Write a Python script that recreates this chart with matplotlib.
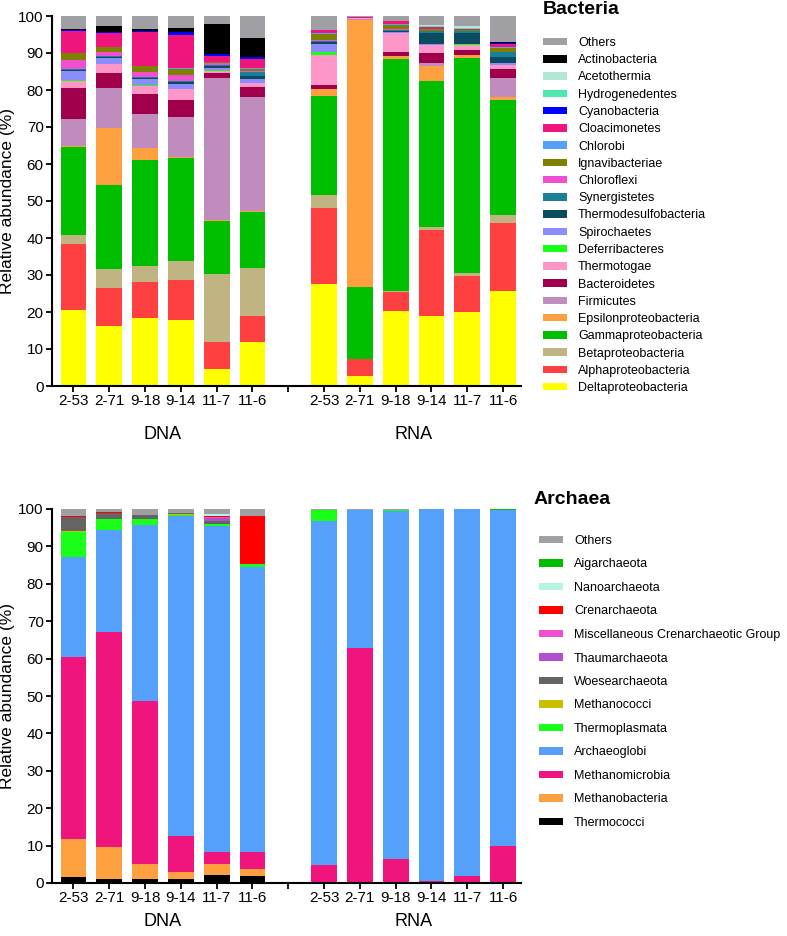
import matplotlib
matplotlib.use("Agg")
import matplotlib.pyplot as plt
from matplotlib.patches import Patch

plt.rcParams['font.family'] = ['Liberation Sans', 'DejaVu Sans']

samples = ["2-53", "2-71", "9-18", "9-14", "11-7", "11-6"]
groups = ["DNA", "RNA"]
# DNA bars at 0-5, RNA bars at 7-12
xpos = [0, 1, 2, 3, 4, 5, 7, 8, 9, 10, 11, 12]

# ---- Bacteria (12 values: DNA 2-53..11-6, RNA 2-53..11-6) ----
delta = [20.5, 16.3, 18.4, 17.9, 4.7, 11.8, 27.5, 2.7, 20.4, 18.8, 20.0, 25.7]
alpha = [17.9, 10.3, 9.7, 10.7, 7.1, 7.0, 20.7, 4.5, 4.9, 23.3, 9.7, 18.4]
beta = [2.5, 5.0, 4.2, 5.2, 18.5, 13.0, 3.5, 0.2, 0.5, 0.9, 0.8, 2.2]
gamma = [23.6, 22.6, 28.7, 27.7, 14.3, 15.2, 26.7, 19.3, 62.6, 39.3, 58.2, 31.0]
epsilon = [0.3, 15.6, 3.3, 0.3, 0.2, 0.2, 1.8, 72.1, 0.8, 4.2, 0.7, 0.9]
firmicutes = [7.4, 10.7, 9.3, 10.8, 38.5, 30.8, 0.2, 0.3, 0.1, 0.7, 0.1, 5.1]
bacteroidetes = [8.3, 4.0, 5.3, 4.6, 1.4, 2.9, 1.0, 0.2, 1.0, 2.9, 1.4, 2.5]
thermotogae = [1.8, 2.4, 2.3, 3.0, 0.5, 0.9, 8.1, 0.1, 5.0, 2.0, 1.3, 0.9]
deferribacteres = [0.3, 0.1, 0.2, 0.2, 0.1, 0.1, 0.9, 0.0, 0.1, 0.1, 0.1, 0.1]
spirochaetes = [2.5, 1.7, 1.6, 1.3, 0.6, 1.0, 2.1, 0.0, 0.4, 0.2, 0.1, 0.4]
thermodesulfo = [0.2, 0.1, 0.3, 0.4, 0.5, 1.0, 0.6, 0.0, 0.2, 3.1, 2.9, 1.8]
synergistetes = [0.4, 0.3, 0.2, 0.3, 0.3, 0.9, 0.2, 0.0, 0.2, 0.4, 0.6, 1.2]
chloroflexi = [2.5, 1.1, 1.5, 1.7, 0.6, 0.3, 0.2, 0.1, 0.2, 0.1, 0.1, 0.2]
ignavibacteriae = [1.8, 1.4, 1.4, 1.7, 0.3, 0.7, 1.7, 0.0, 1.2, 0.4, 0.2, 1.0]
chlorobi = [0.1, 0.1, 0.1, 0.1, 0.1, 0.1, 0.2, 0.0, 0.3, 0.1, 0.1, 0.1]
cloacimonetes = [5.8, 3.7, 9.2, 9.0, 1.5, 2.6, 0.7, 0.2, 0.7, 0.4, 0.2, 0.8]
cyanobacteria = [0.3, 0.2, 0.3, 0.7, 0.6, 0.5, 0.1, 0.0, 0.1, 0.1, 0.1, 0.4]
hydrogenedentes = [0, 0, 0, 0, 0, 0, 0, 0, 0, 0.2, 0.2, 0]
acetothermia = [0, 0, 0, 0, 0, 0, 0, 0, 0, 0.5, 0.5, 0]
actinobacteria = [0.3, 1.6, 0.5, 1.1, 8.1, 5.0, 0, 0, 0, 0, 0, 0.2]
bac_others = [3.5, 2.8, 3.5, 3.3, 2.1, 6.0, 3.8, 0.3, 1.3, 2.3, 2.7, 7.1]

bac_names = ["Deltaproteobacteria", "Alphaproteobacteria", "Betaproteobacteria",
             "Gammaproteobacteria", "Epsilonproteobacteria", "Firmicutes",
             "Bacteroidetes", "Thermotogae", "Deferribacteres", "Spirochaetes",
             "Thermodesulfobacteria", "Synergistetes", "Chloroflexi",
             "Ignavibacteriae", "Chlorobi", "Cloacimonetes", "Cyanobacteria",
             "Hydrogenedentes", "Acetothermia", "Actinobacteria", "Others"]
bac_values = [delta, alpha, beta, gamma, epsilon, firmicutes, bacteroidetes,
              thermotogae, deferribacteres, spirochaetes, thermodesulfo,
              synergistetes, chloroflexi, ignavibacteriae, chlorobi,
              cloacimonetes, cyanobacteria, hydrogenedentes, acetothermia,
              actinobacteria, bac_others]
bac_colors = ["#FFFF00", "#FF4040", "#C0B482", "#00BE00", "#FFA040", "#C08CBE",
              "#A0004B", "#FF96C8", "#19FF19", "#8C8CFF", "#0A4B5F", "#1A8099",
              "#F050D0", "#808000", "#55A0FA", "#F0147D", "#0000FF", "#4DE8B0",
              "#B3E8D8", "#000000", "#A0A0A4"]

# ---- Archaea ----
thermococci = [1.7, 1.1, 1.2, 1.2, 2.2, 1.9, 0.1, 0.2, 0.1, 0.0, 0.0, 0.1]
methanobacteria = [10.0, 8.6, 3.9, 1.7, 2.8, 1.8, 0.1, 0.1, 0.1, 0.1, 0.1, 0.1]
methanomicrobia = [48.8, 57.3, 43.6, 9.7, 3.2, 4.5, 4.6, 62.5, 6.1, 0.4, 1.8, 9.6]
archaeoglobi = [26.6, 27.5, 46.9, 85.4, 87.2, 76.2, 91.9, 37.0, 93.2, 99.4, 98.0, 89.8]
thermoplasmata = [6.7, 2.7, 1.6, 0.4, 0.6, 0.8, 2.9, 0.0, 0.1, 0.0, 0.0, 0.0]
methanococci = [0.2, 0.1, 0.1, 0.2, 0.0, 0.2, 0, 0, 0, 0, 0, 0]
woesearchaeota = [3.8, 1.7, 1.1, 0.3, 0.7, 0.0, 0, 0, 0, 0, 0, 0]
thaumarchaeota = [0, 0, 0, 0, 0.9, 0, 0, 0, 0, 0, 0, 0]
misc_cren = [0.1, 0, 0, 0, 0.2, 0, 0, 0, 0, 0, 0, 0]
crenarchaeota = [0.1, 0.2, 0, 0, 0.3, 12.6, 0, 0, 0, 0, 0, 0]
nanoarchaeota = [0, 0, 0, 0, 0.6, 0, 0, 0, 0, 0, 0, 0]
aigarchaeota = [0, 0, 0, 0, 0, 0.2, 0.1, 0, 0.2, 0, 0, 0.3]
arc_others = [2.0, 0.8, 1.6, 1.1, 1.3, 1.8, 0.3, 0.2, 0.2, 0.1, 0.1, 0.1]

arc_names = ["Thermococci", "Methanobacteria", "Methanomicrobia", "Archaeoglobi",
             "Thermoplasmata", "Methanococci", "Woesearchaeota", "Thaumarchaeota",
             "Miscellaneous Crenarchaeotic Group", "Crenarchaeota",
             "Nanoarchaeota", "Aigarchaeota", "Others"]
arc_values = [thermococci, methanobacteria, methanomicrobia, archaeoglobi,
              thermoplasmata, methanococci, woesearchaeota, thaumarchaeota,
              misc_cren, crenarchaeota, nanoarchaeota, aigarchaeota, arc_others]
arc_colors = ["#000000", "#FFA040", "#F0147D", "#55A0FA", "#19FF19", "#C8C000",
              "#646464", "#B050D0", "#F050D0", "#FF0000", "#B3F5E0", "#00BE00",
              "#A0A0A4"]


def stacked(ax, values, colors, group_y):
    bottom = [0.0] * len(xpos)
    for vals, col in zip(values, colors):
        ax.bar(xpos, vals, 0.72, bottom=bottom, color=col, linewidth=0)
        bottom = [b + v for b, v in zip(bottom, vals)]
    ax.set_xlim(-0.6, 12.5)
    ax.set_ylim(0, 100)
    ax.set_yticks(range(0, 101, 10))
    ax.set_xticks(range(13))
    ax.set_xticklabels(samples + [""] + samples)
    ax.tick_params(direction="out", length=4, width=1.3, pad=2, labelsize=11)
    for s in ["top", "right"]:
        ax.spines[s].set_visible(False)
    for s in ["left", "bottom"]:
        ax.spines[s].set_linewidth(1.5)
    ax.set_ylabel("Relative abundance (%)", fontsize=12.5, labelpad=2)
    ax.text(2.5, group_y, groups[0], transform=ax.get_xaxis_transform(),
            ha="center", va="center", fontsize=13)
    ax.text(9.5, group_y, groups[1], transform=ax.get_xaxis_transform(),
            ha="center", va="center", fontsize=13)


fig = plt.figure(figsize=(7.87, 9.36), dpi=100)
W, H = 787.0, 936.0

ax1 = fig.add_axes([52 / W, 1 - 386 / H, 469 / W, 370 / H])
stacked(ax1, bac_values, bac_colors, -0.13)
ax2 = fig.add_axes([52 / W, 1 - 883 / H, 469 / W, 374 / H])
stacked(ax2, arc_values, arc_colors, -0.103)

fig.text(543 / W, 1 - 9 / H, "Bacteria", fontsize=14, fontweight="bold", va="center")
fig.text(534 / W, 1 - 500 / H, "Archaea", fontsize=14, fontweight="bold", va="center")

h1 = [Patch(facecolor=c, edgecolor="none") for c in bac_colors][::-1]
fig.legend(h1, bac_names[::-1], loc="upper left", bbox_to_anchor=(543 / W, 1 - 37 / H),
           frameon=False, fontsize=9, handlelength=1.9, handleheight=0.55,
           handletextpad=0.9, labelspacing=0.42, borderpad=0, borderaxespad=0)
h2 = [Patch(facecolor=c, edgecolor="none") for c in arc_colors][::-1]
fig.legend(h2, arc_names[::-1], loc="upper left", bbox_to_anchor=(539 / W, 1 - 535 / H),
           frameon=False, fontsize=9, handlelength=1.9, handleheight=0.55,
           handletextpad=0.9, labelspacing=0.92, borderpad=0, borderaxespad=0)

fig.savefig("out.png", dpi=100)
